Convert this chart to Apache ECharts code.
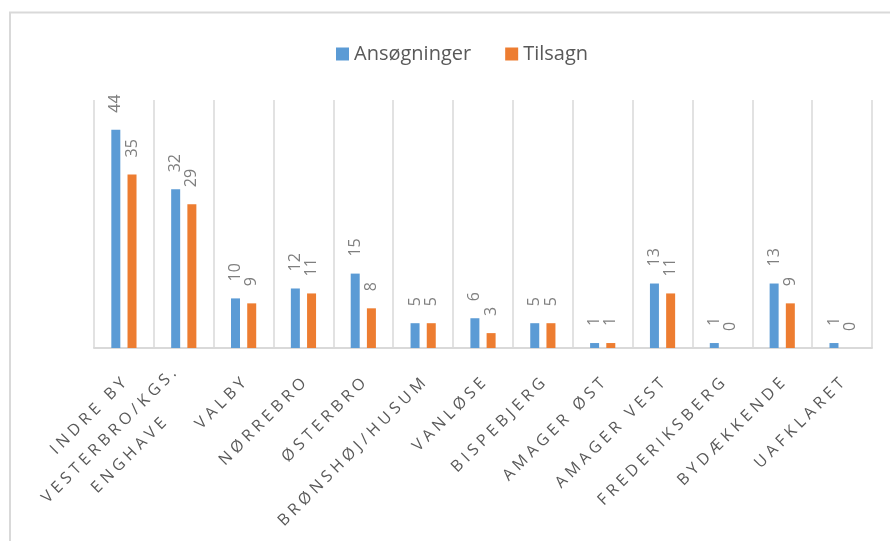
<!DOCTYPE html>
<html>
<head>
<meta charset="utf-8">
<script src="https://cdn.jsdelivr.net/npm/echarts@6/dist/echarts.min.js"></script>
<style>
  html, body { margin: 0; padding: 0; background: #fff; }
  #box { width: 890px; height: 541px; }
</style>
</head>
<body>
<div id="box"></div>
<script>
// bydele
var omraader = ['INDRE BY', 'VESTERBRO/KGS. ENGHAVE', 'VALBY', 'NØRREBRO', 'ØSTERBRO',
  'BRØNSHØJ/HUSUM', 'VANLØSE', 'BISPEBJERG', 'AMAGER ØST', 'AMAGER VEST',
  'FREDERIKSBERG', 'BYDÆKKENDE', 'UAFKLARET'];
var ansoegninger = [44, 32, 10, 12, 15, 5, 6, 5, 1, 13, 1, 13, 1];
var tilsagn = [35, 29, 9, 11, 8, 5, 3, 5, 1, 11, 0, 9, 0];

var gray = '#595959';
var lys = '#d9d9d9';

// spredt skrift som i Excel
function spred(s) {
  return s.split('').join('\u2009\u200a');
}

var myChart = echarts.init(document.getElementById('box'));
var option = {
  backgroundColor: '#fff',
  animation: false,
  graphic: [{
    type: 'rect',
    shape: { x: 10, y: 12.5, width: 900, height: 600 },
    style: { fill: 'none', stroke: lys, lineWidth: 2 },
    silent: true
  }],
  legend: {
    top: 39,
    left: 331,
    icon: 'rect',
    itemWidth: 13,
    itemHeight: 13,
    itemGap: 34,
    textStyle: { color: gray, fontSize: 20, fontFamily: 'Open Sans' },
    data: ['Ansøgninger', 'Tilsagn']
  },
  grid: { left: 94, right: 18, top: 100, bottom: 193 },
  xAxis: {
    type: 'category',
    data: omraader,
    axisLine: { lineStyle: { color: lys, width: 2 } },
    axisTick: { show: false },
    splitLine: { show: true, interval: 0, lineStyle: { color: lys, width: 1.5 } },
    axisLabel: {
      interval: 0,
      rotate: 45,
      margin: 33,
      color: gray,
      fontSize: 16,
      fontFamily: 'Open Sans',
      lineHeight: 28,
      formatter: function (v) {
        if (v.length > 16) {
          var i = v.lastIndexOf(' ');
          return '{a|' + spred(v.slice(0, i)) + '}\n{c|' + spred(v.slice(i + 1)) + '}';
        }
        return '{a|' + spred(v) + '}';
      },
      rich: {
        a: { color: gray, fontSize: 16, fontFamily: 'Open Sans', lineHeight: 28 },
        c: { color: gray, fontSize: 16, fontFamily: 'Open Sans', lineHeight: 28, align: 'center' }
      }
    }
  },
  yAxis: {
    type: 'value',
    min: 0,
    max: 50,
    interval: 10,
    show: false,
    splitLine: { show: false }
  },
  series: [
    {
      name: 'Ansøgninger',
      type: 'bar',
      data: ansoegninger,
      barWidth: 9,
      barGap: '80%',
      itemStyle: { color: '#5b9bd5' },
      label: {
        show: true,
        position: 'top',
        rotate: 90,
        align: 'left',
        verticalAlign: 'middle',
        distance: 17,
        color: '#7f7f7f',
        fontSize: 16,
        fontFamily: 'Open Sans'
      }
    },
    {
      name: 'Tilsagn',
      type: 'bar',
      data: tilsagn,
      barWidth: 9,
      itemStyle: { color: '#ed7d31' },
      label: {
        show: true,
        position: 'top',
        rotate: 90,
        align: 'left',
        verticalAlign: 'middle',
        distance: 17,
        color: '#7f7f7f',
        fontSize: 16,
        fontFamily: 'Open Sans'
      }
    }
  ]
};
myChart.setOption(option);
</script>
</body>
</html>
